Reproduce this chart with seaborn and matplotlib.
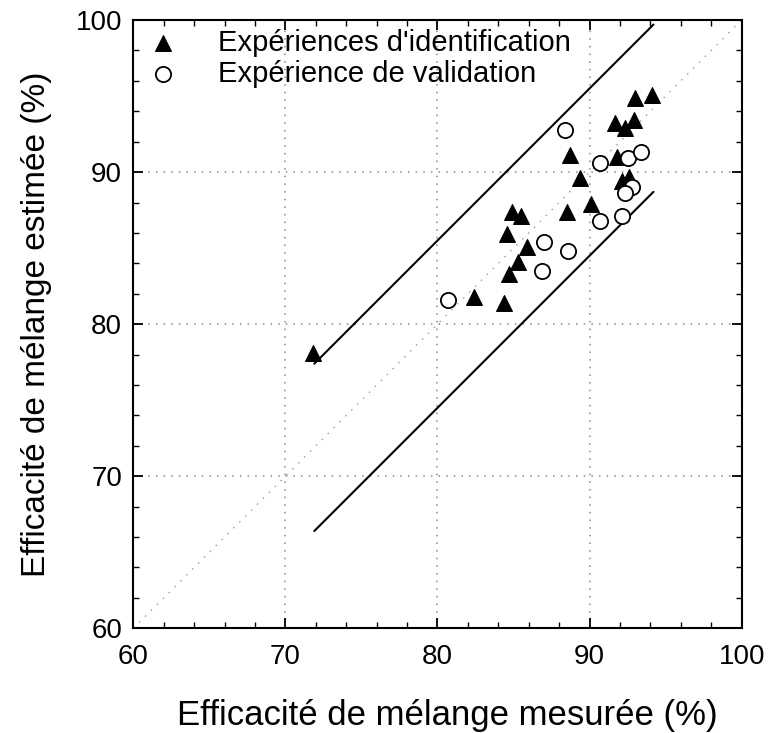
import matplotlib
matplotlib.use('Agg')
from matplotlib import pyplot as plt
from matplotlib.ticker import MultipleLocator
import seaborn as sns

# identification experiments (triangles)
ident_x = [93.0, 94.1, 91.7, 92.9, 92.3, 88.7, 91.8, 89.4, 92.1, 92.6, 90.1, 88.5,
           84.9, 85.5, 84.6, 85.9, 85.3, 84.7, 84.4, 82.4, 71.8]
ident_y = [94.9, 95.1, 93.2, 93.4, 92.9, 91.1, 91.0, 89.6, 89.4, 89.7, 87.9, 87.4,
           87.4, 87.1, 85.9, 85.1, 84.1, 83.3, 81.4, 81.8, 78.1]

# validation experiment (open circles)
valid_x = [88.4, 90.7, 92.5, 93.4, 92.8, 92.3, 90.7, 92.1, 87.0, 88.6, 86.9, 80.7]
valid_y = [92.8, 90.6, 90.9, 91.3, 89.0, 88.6, 86.8, 87.1, 85.4, 84.8, 83.5, 81.6]

# error band lines
band_x = [71.9, 94.2]
upper_y = [77.4, 99.7]
lower_y = [66.4, 88.7]
diag = [60, 100]

sns.set_style('ticks')
plt.rcParams['font.family'] = ['Liberation Sans', 'DejaVu Sans']
plt.rcParams['text.color'] = 'black'
plt.rcParams['axes.labelcolor'] = 'black'
plt.rcParams['xtick.color'] = 'black'
plt.rcParams['ytick.color'] = 'black'
plt.rcParams['xtick.direction'] = 'in'
plt.rcParams['ytick.direction'] = 'in'
plt.rcParams['xtick.major.size'] = 7
plt.rcParams['ytick.major.size'] = 7
plt.rcParams['xtick.minor.size'] = 4
plt.rcParams['ytick.minor.size'] = 4
plt.rcParams['xtick.major.width'] = 1.3
plt.rcParams['ytick.major.width'] = 1.3
plt.rcParams['xtick.minor.width'] = 1.0
plt.rcParams['ytick.minor.width'] = 1.0

fig = plt.figure(figsize=(7.68, 7.33), dpi=100)
ax = fig.add_axes([0.1736, 0.1428, 0.7921, 0.8299])

ax.grid(True, which='major', linestyle=(0, (1, 4)), color='#888888', linewidth=1.1, zorder=0)
ax.plot(diag, diag, linestyle=(0, (1, 5)), color='#999999', linewidth=1.0, zorder=1)
ax.plot(band_x, upper_y, color='black', linewidth=1.5, zorder=2)
ax.plot(band_x, lower_y, color='black', linewidth=1.5, zorder=2)

sns.scatterplot(x=ident_x, y=ident_y, marker='^', s=130, color='black', edgecolor='black',
                linewidth=0.8, label="Expériences d'identification", ax=ax, zorder=3)
sns.scatterplot(x=valid_x, y=valid_y, marker='o', s=120, facecolor='white', edgecolor='black',
                linewidth=1.3, label='Expérience de validation', ax=ax, zorder=3)

ax.set_xlim(60, 100)
ax.set_ylim(60, 100)
ax.xaxis.set_major_locator(MultipleLocator(10))
ax.yaxis.set_major_locator(MultipleLocator(10))
ax.xaxis.set_minor_locator(MultipleLocator(2))
ax.yaxis.set_minor_locator(MultipleLocator(2))
ax.tick_params(which='both', top=True, right=True, labelsize=20)
ax.tick_params(axis='x', pad=11)
ax.tick_params(axis='y', pad=8)
for sp in ax.spines.values():
    sp.set_linewidth(1.5)
    sp.set_color('black')

ax.set_xlabel('Efficacité de mélange mesurée (%)', fontsize=25, labelpad=21)
ax.xaxis.label.set_x(0.516)
ax.set_ylabel('Efficacité de mélange estimée (%)', fontsize=24, labelpad=17)

ax.legend(loc='upper left', frameon=False, fontsize=21, handlelength=1.25, handletextpad=1.25,
          borderaxespad=0.0, borderpad=0.4, labelspacing=0.1, bbox_to_anchor=(0.0, 1.005))

fig.savefig('out.png', dpi=100)
